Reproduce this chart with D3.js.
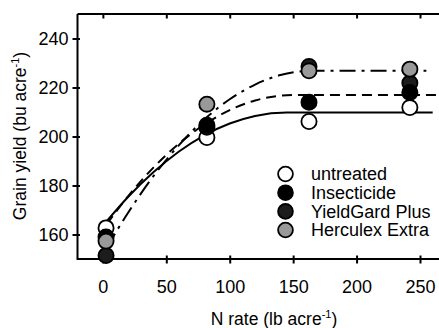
<!DOCTYPE html>
<html><head><meta charset="utf-8">
<script src="https://cdn.jsdelivr.net/npm/d3@7"></script>
<style>body{margin:0;background:#fff}svg{display:block}text{font-family:"Liberation Sans",Arial,sans-serif;fill:#000}</style>
</head><body><svg id="c" width="439" height="328"></svg>
<script>
// Data
const nRates = [2.5, 82, 162.5, 242];
const untreated = [162.7, 199.6, 206.1, 211.8];
const insecticide = [159, 204.6, 214, 218];
const yieldGard = [151.4, 203.8, 228.6, 221.8];
const herculex = [157.3, 213.2, 226.8, 227.5];
// fitted response curves
const curveSolidX = [3, 20, 40, 60, 80, 100, 120, 145, 260];
const curveSolidY = [165.4, 175.4, 185.5, 193.9, 200.5, 205.3, 208.4, 209.8, 209.8];
const curveDashX = [3, 20, 40, 60, 80, 100, 120, 150, 263];
const curveDashY = [164.2, 175.7, 187.4, 197.1, 204.9, 210.8, 214.7, 216.9, 216.9];
const curveDashDotX = [3, 20, 40, 60, 80, 100, 120, 140, 165, 255];
const curveDashDotY = [154.7, 169.0, 183.9, 196.5, 207.0, 215.2, 221.2, 225.1, 226.8, 226.8];
const xTicks = [0, 50, 100, 150, 200, 250];
const yTicks = [160, 180, 200, 220, 240];
const seriesNames = ["untreated", "Insecticide", "YieldGard Plus", "Herculex Extra"];
const seriesColors = ["#ffffff", "#000000", "#1c1c1c", "#999999"];

const svg = d3.select("#c");
const x = d3.scaleLinear().domain([-20, 250]).range([77.5, 420]);
const y = d3.scaleLinear().domain([150, 250]).range([259, 14]);

// frame
svg.append("path").attr("d", "M77.5,14 H445 M77.5,14 V259 H445")
  .attr("fill", "none").attr("stroke", "#000").attr("stroke-width", 2);

// axes
const axBottom = svg.append("g").attr("transform", "translate(0,259)")
  .call(d3.axisBottom(x).tickValues(xTicks).tickSize(4).tickPadding(17).tickFormat(d3.format("d")));
axBottom.selectAll(".tick line").attr("y1", -3.5).attr("y2", 4.5);
const axTop = svg.append("g").attr("transform", "translate(0,14)")
  .call(d3.axisBottom(x).tickValues(xTicks).tickSize(4.5).tickFormat(""));
const axLeft = svg.append("g").attr("transform", "translate(77.5,0)")
  .call(d3.axisLeft(y).tickValues(yTicks).tickSize(5).tickPadding(4).tickFormat(d3.format("d")));
axLeft.selectAll(".tick line").attr("x1", 2.5).attr("x2", -5);
svg.selectAll(".domain").remove();
svg.selectAll(".tick line").attr("stroke", "#000").attr("stroke-width", 2);
svg.selectAll(".tick text").attr("font-size", 18).attr("font-family", '"Liberation Sans",Arial,sans-serif').attr("fill", "#000");

// curves
const line = d3.line().x(d => x(d[0])).y(d => y(d[1])).curve(d3.curveMonotoneX);
const curves = [
  [curveSolidX, curveSolidY, null],
  [curveDashX, curveDashY, "10,6"],
  [curveDashDotX, curveDashDotY, "16,6,3,6"]
];
curves.forEach(([xs, ys, dash]) => {
  svg.append("path").datum(xs.map((v, i) => [v, ys[i]]))
    .attr("d", line).attr("fill", "none").attr("stroke", "#000").attr("stroke-width", 2)
    .attr("stroke-dasharray", dash);
});

// points (draw order: untreated, YieldGard, Insecticide, Herculex)
const series = [untreated, insecticide, yieldGard, herculex];
[0, 2, 1, 3].forEach(si => {
  svg.append("g").selectAll("circle").data(series[si]).join("circle")
    .attr("cx", (d, i) => x(nRates[i])).attr("cy", d => y(d))
    .attr("r", 7.6).attr("fill", seriesColors[si]).attr("stroke", "#000").attr("stroke-width", 1.8);
});

// legend
const legY = [174, 192.7, 211.4, 230];
const leg = svg.append("g");
seriesNames.forEach((n, i) => {
  leg.append("circle").attr("cx", 285.5).attr("cy", legY[i]).attr("r", 7.4)
    .attr("fill", seriesColors[i]).attr("stroke", "#000").attr("stroke-width", 1.8);
  leg.append("text").attr("x", 311).attr("y", legY[i]).attr("dy", "0.36em")
    .attr("font-size", 18).text(n);
});

// axis titles
const xt = svg.append("text").attr("x", 274).attr("y", 325).attr("text-anchor", "middle").attr("font-size", 17.5);
xt.append("tspan").text("N rate (lb acre");
xt.append("tspan").attr("font-size", 11).attr("dy", -7).text("-1");
xt.append("tspan").attr("dy", 7).text(")");
const yt = svg.append("text").attr("transform", "translate(26,136) rotate(-90)").attr("text-anchor", "middle").attr("font-size", 17.5);
yt.append("tspan").text("Grain yield (bu acre");
yt.append("tspan").attr("font-size", 11).attr("dy", -7).text("-1");
yt.append("tspan").attr("dy", 7).text(")");
</script></body></html>
